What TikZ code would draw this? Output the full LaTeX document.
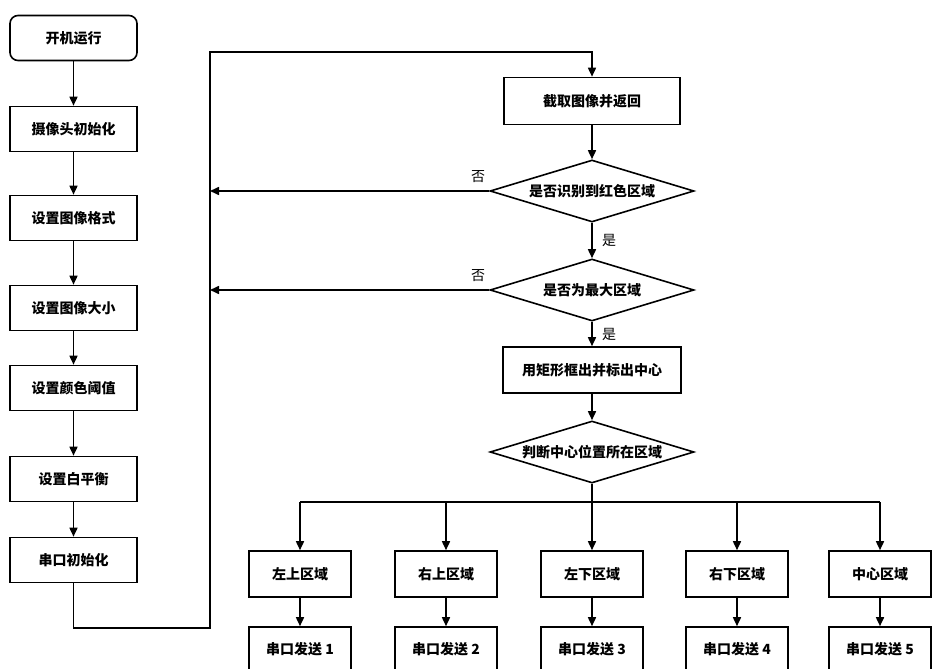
\documentclass[tikz,border=0pt]{standalone}
\usepackage{fontspec}
\setmainfont{Noto Sans CJK SC}
\usetikzlibrary{shapes.geometric,arrows.meta}
\begin{document}
\begin{tikzpicture}[x=1pt,y=-1pt,
 box/.style={draw,line width=1.6pt,minimum width=127pt,minimum height=45pt,font=\bfseries\fontsize{14}{14}\selectfont,inner sep=0},
 sbox/.style={draw,line width=1.6pt,minimum width=102pt,minimum height=46pt,font=\bfseries\fontsize{14}{14}\selectfont,inner sep=0},
 dia/.style={draw,diamond,aspect=3.3,line width=1.6pt,minimum width=204pt,minimum height=62pt,font=\bfseries\fontsize{14}{14}\selectfont,inner sep=0},
 arr/.style={line width=1.6pt,-{Triangle[length=9pt,width=8pt]}},
 lab/.style={font=\fontsize{14}{14}\selectfont}]
\useasboundingbox (0,0) rectangle (942,669);
\node[box,rounded corners=8pt] (a1) at (73.5,38) {开机运行};
\node[box] (a2) at (73.5,129) {摄像头初始化};
\node[box] (a3) at (73.5,218) {设置图像格式};
\node[box] (a4) at (73.5,308) {设置图像大小};
\node[box] (a5) at (73.5,388) {设置颜色阈值};
\node[box] (a6) at (73.5,479) {设置白平衡};
\node[box] (a7) at (73.5,560) {串口初始化};
\foreach \i/\j in {a1/a2,a2/a3,a3/a4,a4/a5,a5/a6,a6/a7} \draw[arr] (\i) -- (\j);
\node[box,minimum width=176pt,minimum height=47pt] (b1) at (592,101) {截取图像并返回};
\node[dia] (d1) at (592,191) {是否识别到红色区域};
\node[dia] (d2) at (592,290) {是否为最大区域};
\node[box,minimum width=178pt,minimum height=46pt] (b2) at (592,370) {用矩形框出并标出中心};
\node[dia] (d3) at (592,452) {判断中心位置所在区域};
\coordinate (c0) at (73.5,628);
\coordinate (c1) at (210,628);
\coordinate (c2) at (210,52);
\coordinate (c3) at (592,52);
\draw[arr] (a7.south) -- (c0) -- (c1) -- (c2) -- (c3) -- (b1.north);
\draw[arr] (b1) -- (d1);
\draw[arr] (d1) -- (d2) node[lab,pos=0.5,right=6pt] {是};
\draw[arr] (d2) -- (b2) node[lab,pos=0.5,right=6pt] {是};
\draw[arr] (b2) -- (d3);
\coordinate (n1) at (210,191);
\coordinate (n2) at (210,290);
\draw[arr] (d1.west) -- (n1) node[lab,pos=0.04,above=4pt] {否};
\draw[arr] (d2.west) -- (n2) node[lab,pos=0.04,above=4pt] {否};
\coordinate (br) at (592,502);
\draw[line width=1.6pt] (d3.south) -- (br);
\foreach \x/\t/\k in {300/左上区域/1,446/右上区域/2,592/左下区域/3,737/右下区域/4,880/中心区域/5}{
 \node[sbox] (r\k) at (\x,574) {\t};
 \node[sbox,minimum height=44pt] (s\k) at (\x,649) {串口发送 \k};
 \coordinate (t\k) at (\x,502);
 \draw[arr] (t\k) -- (r\k);
 \draw[arr] (r\k) -- (s\k);
}
\draw[line width=1.6pt] (t1) -- (t5);
\end{tikzpicture}
\end{document}
